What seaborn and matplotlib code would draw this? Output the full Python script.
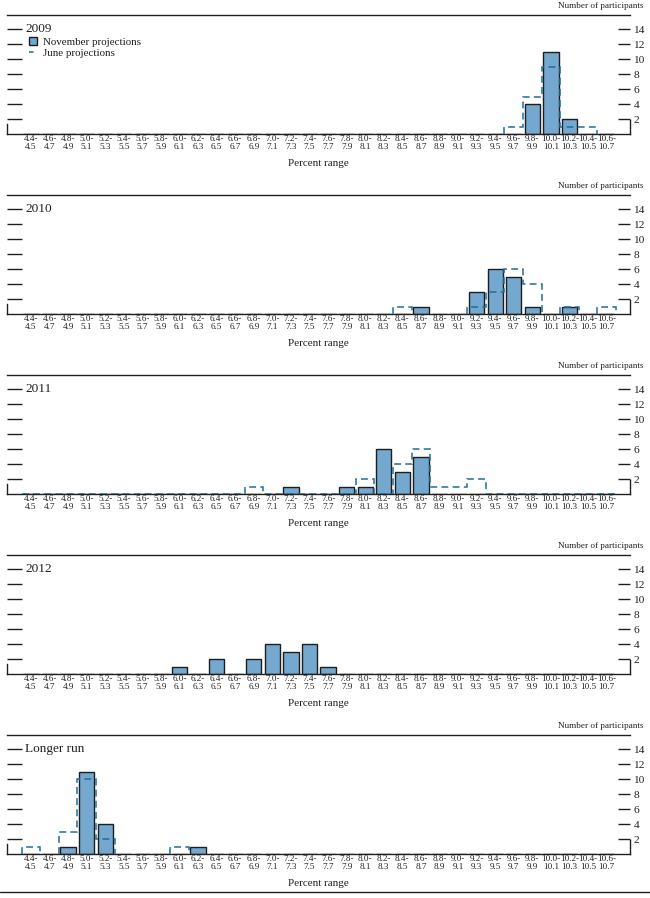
import matplotlib
matplotlib.use("Agg")
import matplotlib.pyplot as plt
import seaborn as sns
import numpy as np
import pandas as pd
from matplotlib.patches import Patch
from matplotlib.lines import Line2D

# ---------------- data ----------------
range_labels = [
    "4.4-\n4.5", "4.6-\n4.7", "4.8-\n4.9", "5.0-\n5.1", "5.2-\n5.3", "5.4-\n5.5",
    "5.6-\n5.7", "5.8-\n5.9", "6.0-\n6.1", "6.2-\n6.3", "6.4-\n6.5", "6.6-\n6.7",
    "6.8-\n6.9", "7.0-\n7.1", "7.2-\n7.3", "7.4-\n7.5", "7.6-\n7.7", "7.8-\n7.9",
    "8.0-\n8.1", "8.2-\n8.3", "8.4-\n8.5", "8.6-\n8.7", "8.8-\n8.9", "9.0-\n9.1",
    "9.2-\n9.3", "9.4-\n9.5", "9.6-\n9.7", "9.8-\n9.9", "10.0-\n10.1", "10.2-\n10.3",
    "10.4-\n10.5", "10.6-\n10.7",
]
panel_titles = ["2009", "2010", "2011", "2012", "Longer run"]

#            4.4 4.6 4.8 5.0 5.2 5.4 5.6 5.8 6.0 6.2 6.4 6.6 6.8 7.0 7.2 7.4 7.6 7.8 8.0 8.2 8.4 8.6 8.8 9.0 9.2 9.4 9.6 9.8 10.0 10.2 10.4 10.6
nov_2009  = [0,  0,  0,  0,  0,  0,  0,  0,  0,  0,  0,  0,  0,  0,  0,  0,  0,  0,  0,  0,  0,  0,  0,  0,  0,  0,  0,  4,  11,  2,   0,   0]
june_2009 = [0,  0,  0,  0,  0,  0,  0,  0,  0,  0,  0,  0,  0,  0,  0,  0,  0,  0,  0,  0,  0,  0,  0,  0,  0,  0,  1,  5,  9,   1,   1,   0]
nov_2010  = [0,  0,  0,  0,  0,  0,  0,  0,  0,  0,  0,  0,  0,  0,  0,  0,  0,  0,  0,  0,  0,  1,  0,  0,  3,  6,  5,  1,  0,   1,   0,   0]
june_2010 = [0,  0,  0,  0,  0,  0,  0,  0,  0,  0,  0,  0,  0,  0,  0,  0,  0,  0,  0,  0,  1,  0,  0,  0,  1,  3,  6,  4,  0,   1,   0,   1]
nov_2011  = [0,  0,  0,  0,  0,  0,  0,  0,  0,  0,  0,  0,  0,  0,  1,  0,  0,  1,  1,  6,  3,  5,  0,  0,  0,  0,  0,  0,  0,   0,   0,   0]
june_2011 = [0,  0,  0,  0,  0,  0,  0,  0,  0,  0,  0,  0,  1,  0,  0,  0,  0,  0,  2,  0,  4,  6,  1,  1,  2,  0,  0,  0,  0,   0,   0,   0]
nov_2012  = [0,  0,  0,  0,  0,  0,  0,  0,  1,  0,  2,  0,  2,  4,  3,  4,  1,  0,  0,  0,  0,  0,  0,  0,  0,  0,  0,  0,  0,   0,   0,   0]
nov_lr    = [0,  0,  1,  11, 4,  0,  0,  0,  0,  1,  0,  0,  0,  0,  0,  0,  0,  0,  0,  0,  0,  0,  0,  0,  0,  0,  0,  0,  0,   0,   0,   0]
june_lr   = [1,  0,  3,  10, 2,  0,  0,  0,  1,  0,  0,  0,  0,  0,  0,  0,  0,  0,  0,  0,  0,  0,  0,  0,  0,  0,  0,  0,  0,   0,   0,   0]

y_ticks = [2, 4, 6, 8, 10, 12, 14]

panels = [
    ("2009", nov_2009, june_2009, False),
    ("2010", nov_2010, june_2010, False),
    ("2011", nov_2011, june_2011, True),
    ("2012", nov_2012, None, False),
    ("Longer run", nov_lr, june_lr, False),
]

# ---------------- style ----------------
BAR = "#74A8CE"
EDGE = "#1E1E1E"
JUNE = "#1F6E96"
INK = "#231F20"

sns.set_theme(style="white")
plt.rcParams["font.family"] = ["Liberation Serif", "DejaVu Serif"]
plt.rcParams["text.color"] = INK

W, H = 650, 898
fig = plt.figure(figsize=(W / 100, H / 100), dpi=100)
fig.patch.set_facecolor("white")

AX_L, AX_R = 7, 630
AX_H = 119
edges = np.arange(len(range_labels) + 1) - 0.5

for i, (title, nov, june, full_june) in enumerate(panels):
    base = 134 + 180 * i
    ax = fig.add_axes([AX_L / W, 1 - base / H, (AX_R - AX_L) / W, AX_H / H])
    df = pd.DataFrame({"range": range_labels, "count": nov})
    sns.barplot(data=df, x="range", y="count", order=range_labels, color=BAR,
                saturation=1, width=0.82, edgecolor=EDGE, linewidth=1.0,
                errorbar=None, ax=ax, zorder=2)

    if june is not None:
        jv = np.asarray(june, dtype=float)
        style = dict(fill=False, edgecolor=JUNE, linewidth=1.1,
                     linestyle=(0, (4.5, 2.8)), zorder=3)
        if full_june:
            ax.stairs(jv, edges, baseline=0, **style)
        else:
            nz = np.nonzero(jv)[0]
            runs = []
            start = nz[0]
            prev = nz[0]
            for k in nz[1:]:
                if k != prev + 1:
                    runs.append((start, prev))
                    start = k
                prev = k
            runs.append((start, prev))
            for a, b in runs:
                ax.stairs(jv[a:b + 1], edges[a:b + 2], baseline=0, **style)

    ax.set_xlim(-1.29, 32.26)
    ax.set_ylim(0, 15.87)
    ax.set_facecolor("white")

    for side in ["left", "right", "top", "bottom"]:
        ax.spines[side].set_visible(True)
        ax.spines[side].set_color(INK)
        ax.spines[side].set_linewidth(1.0)
    ax.spines["left"].set_bounds(0, 1.35)
    ax.spines["right"].set_bounds(0, 1.9)

    ax.set_xticks(range(len(range_labels)))
    ax.set_xticklabels(range_labels, fontsize=6.6, linespacing=0.95)
    ax.tick_params(axis="x", length=0, pad=1.0, colors=INK)

    ax.set_yticks(y_ticks)
    ax.set_yticklabels([str(t) for t in y_ticks])
    ax.tick_params(axis="y", left=True, right=True, labelleft=False,
                   labelright=True, direction="in", width=1.0, length=10,
                   labelsize=8.2, pad=2.5, colors=INK)
    for t in ax.yaxis.get_major_ticks():
        t.tick1line.set_markersize(10.8)
        t.tick2line.set_markersize(9.0)

    ax.set_ylabel("")
    ax.set_xlabel("Percent range", fontsize=8, labelpad=5.5, color=INK)

    ax.text((25 - AX_L) / (AX_R - AX_L), 14, title, transform=ax.get_yaxis_transform(),
            ha="left", va="center", fontsize=9.5, color=INK)

    fig.text(644 / W, 1 - (6 + 180 * i) / H, "Number of participants",
             ha="right", va="center", fontsize=6.6, color=INK)

    if i == 0:
        handles = [Patch(facecolor=BAR, edgecolor=EDGE, linewidth=1.0),
                   Line2D([], [], color=JUNE, linewidth=1.1, linestyle=(0, (3, 2.5)))]
        ax.legend(handles, ["November projections", "June projections"],
                  loc="upper left", bbox_to_anchor=(29 / W, 1 - 37 / H),
                  bbox_transform=fig.transFigure, frameon=False, fontsize=7.9,
                  handlelength=0.72, handleheight=0.8, handletextpad=0.55,
                  labelspacing=0.08, borderpad=0, borderaxespad=0)

fig.add_artist(Line2D([0, 1], [1 - 892 / H, 1 - 892 / H], transform=fig.transFigure,
                      color=INK, linewidth=1.0))

fig.savefig("out.png", dpi=100, facecolor="white")
